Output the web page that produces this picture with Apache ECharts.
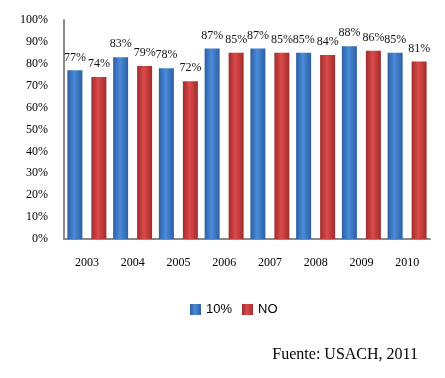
<!DOCTYPE html>
<html>
<head>
<meta charset="utf-8">
<script src="https://cdn.jsdelivr.net/npm/echarts@6/dist/echarts.min.js"></script>
<style>html,body{margin:0;padding:0;background:#fff}#c{width:445px;height:378px}</style>
</head>
<body>
<div id="c"></div>
<script>
var years = ['2003','2004','2005','2006','2007','2008','2009','2010'];
var seriesNames = ['10%','NO'];
var values10 = [77, 83, 78, 87, 87, 85, 88, 85];
var valuesNO = [74, 79, 72, 85, 85, 84, 86, 81];

function grad(dark, light) {
  return new echarts.graphic.LinearGradient(0, 0, 1, 0, [
    {offset: 0, color: dark},
    {offset: 0.45, color: light},
    {offset: 1, color: dark}
  ]);
}
var serif = '"Liberation Serif", "Times New Roman", serif';
var chart = echarts.init(document.getElementById('c'));
var labelCfg = {show: true, position: 'top', distance: 7, formatter: '{c}%', color: '#111', fontFamily: serif, fontSize: 12};
chart.setOption({
  animation: false,
  grid: {left: 64, right: 15, top: 20, bottom: 139},
  title: {text: 'Fuente: USACH, 2011', right: 22, top: 342,
    textStyle: {fontFamily: serif, fontWeight: 'normal', fontSize: 16, color: '#000'}},
  legend: {data: seriesNames, left: 185, top: 298, icon: 'rect', itemWidth: 11, itemHeight: 11, itemGap: 10,
    textStyle: {fontFamily: '"Liberation Sans", Arial, sans-serif', fontSize: 13, color: '#000'}},
  xAxis: {type: 'category', data: years,
    axisLine: {lineStyle: {color: '#8a8a8a', width: 2}},
    axisTick: {show: false},
    axisLabel: {margin: 18, fontFamily: serif, fontSize: 12, color: '#000'}},
  yAxis: {type: 'value', min: 0, max: 100, interval: 10,
    splitLine: {show: false},
    axisLine: {show: true, lineStyle: {color: '#8a8a8a', width: 2}},
    axisTick: {show: false},
    axisLabel: {formatter: '{value}%', margin: 16, fontFamily: serif, fontSize: 12, color: '#000'}},
  series: [
    {name: seriesNames[0], type: 'bar', data: values10, barWidth: 15, barGap: '60%',
      itemStyle: {color: grad('#2c5fa3', '#4a8bd9')}, label: labelCfg},
    {name: seriesNames[1], type: 'bar', data: valuesNO, barWidth: 15,
      itemStyle: {color: grad('#a02c2c', '#dc4a4a')}, label: labelCfg}
  ]
});
</script>
</body>
</html>
